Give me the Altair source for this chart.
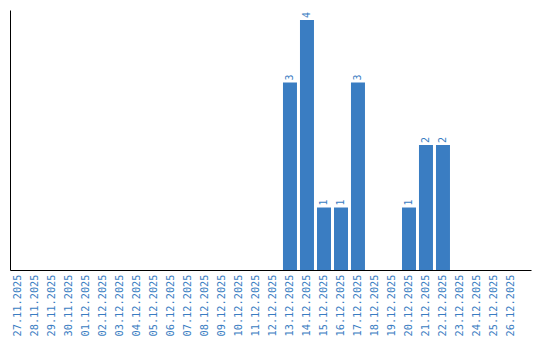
import altair as alt
import pandas as pd

dates = [
    "27.11.2025", "28.11.2025", "29.11.2025", "30.11.2025",
    "01.12.2025", "02.12.2025", "03.12.2025", "04.12.2025", "05.12.2025",
    "06.12.2025", "07.12.2025", "08.12.2025", "09.12.2025", "10.12.2025",
    "11.12.2025", "12.12.2025", "13.12.2025", "14.12.2025", "15.12.2025",
    "16.12.2025", "17.12.2025", "18.12.2025", "19.12.2025", "20.12.2025",
    "21.12.2025", "22.12.2025", "23.12.2025", "24.12.2025", "25.12.2025",
    "26.12.2025",
]
counts = [0, 0, 0, 0, 0, 0, 0, 0, 0, 0, 0, 0, 0, 0, 0, 0,
          3, 4, 1, 1, 3, 0, 0, 1, 2, 2, 0, 0, 0, 0]

df = pd.DataFrame({"date": dates, "count": counts})
df["label"] = [str(c) if c > 0 else "" for c in counts]

BLUE = "#3a7dc2"
FONT = "DejaVu Sans Mono"

x = alt.X(
    "date:N",
    sort=None,
    scale=alt.Scale(paddingInner=3 / 17, paddingOuter=0.4118, align=0.07),
    axis=alt.Axis(
        title=None, ticks=False, labelAngle=-90, labelColor=BLUE,
        labelFont=FONT, labelFontSize=10.3, labelPadding=4,
        domainColor="black", domainWidth=1, grid=False, labelOverlap=False,
    ),
)
y = alt.Y(
    "count:Q",
    scale=alt.Scale(domain=[0, 4.16], nice=False),
    axis=alt.Axis(title=None, ticks=False, labels=False, grid=False,
                  domainColor="black", domainWidth=1),
)

bars = alt.Chart(df).mark_bar(color=BLUE).encode(x=x, y=y)
text = alt.Chart(df).mark_text(
    angle=270, align="left", baseline="middle", dx=2,
    color=BLUE, font=FONT, fontSize=10,
).encode(x=x, y=y, text="label:N")

chart = (bars + text).properties(
    width=521, height=260,
    background="white",
    padding={"left": 10, "top": 10, "right": 9, "bottom": 70},
    autosize=alt.AutoSizeParams(type="none"),
).configure_view(strokeWidth=0, stroke="transparent")

chart.save("out.html", embed_options={"renderer": "svg", "actions": False})
